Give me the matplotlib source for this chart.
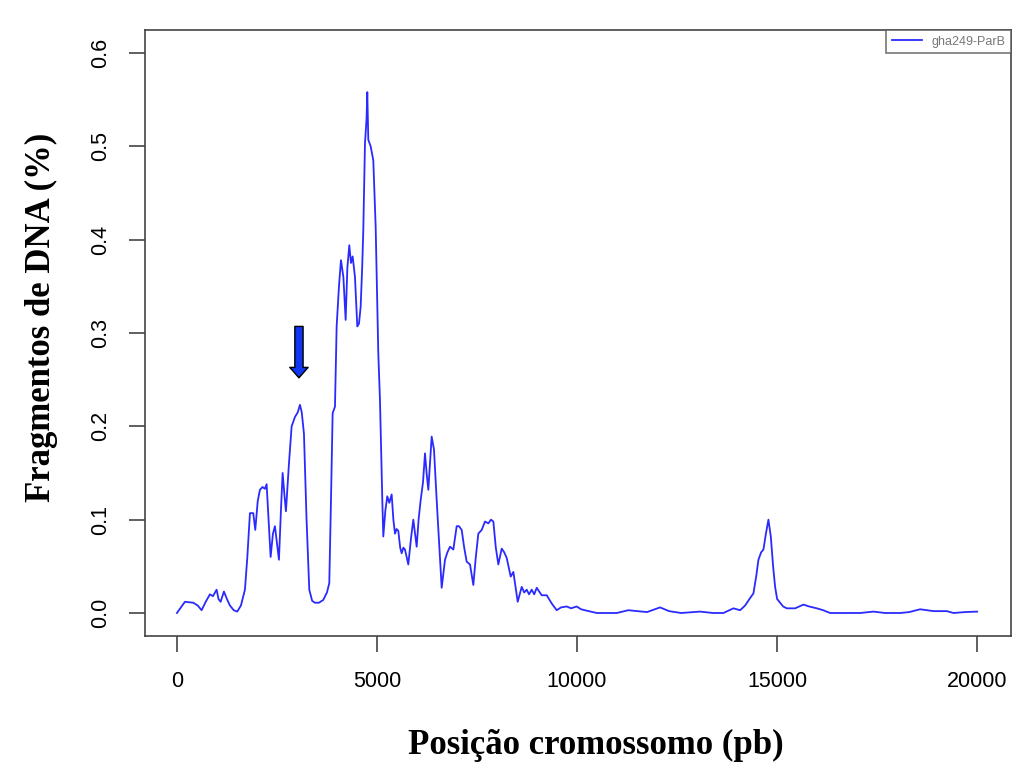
import numpy as np
import matplotlib.pyplot as plt

# posição (pb) e fragmentos de DNA (%)
posicao = [0, 100, 200, 410, 520, 617, 720, 825, 900, 992, 1040, 1092, 1175, 1250, 1325,
           1420, 1508, 1600, 1700, 1760, 1825, 1908, 1958, 2020, 2075, 2140, 2200, 2242,
           2290, 2342, 2400, 2450, 2500, 2550, 2600, 2642, 2690, 2725, 2800, 2867, 2950,
           3020, 3075, 3120, 3175, 3240, 3308, 3380, 3450, 3550, 3658, 3750, 3808, 3850,
           3892, 3950, 3992, 4050, 4100, 4160, 4217, 4260, 4308, 4350, 4392, 4450, 4508,
           4550, 4592, 4630, 4658, 4700, 4740, 4758, 4783, 4842, 4908, 4967, 5033, 5075,
           5133, 5158, 5210, 5258, 5308, 5367, 5410, 5450, 5490, 5533, 5580, 5617, 5660,
           5700, 5783, 5850, 5908, 5992, 6040, 6092, 6150, 6200, 6240, 6283, 6367, 6425,
           6492, 6560, 6617, 6700, 6760, 6825, 6908, 6992, 7050, 7117, 7180, 7242, 7325,
           7408, 7470, 7533, 7617, 7700, 7783, 7850, 7908, 7970, 8033, 8117, 8180, 8242,
           8342, 8408, 8517, 8617, 8680, 8742, 8800, 8867, 8930, 8992, 9117, 9242, 9370,
           9492, 9600, 9742, 9850, 9990, 10100, 10242, 10492, 10750, 10992, 11283, 11500,
           11750, 12075, 12300, 12600, 13075, 13400, 13658, 13908, 14075, 14200, 14325,
           14408, 14480, 14533, 14600, 14658, 14720, 14783, 14842, 14900, 14950, 15000,
           15075, 15150, 15242, 15450, 15658, 15800, 15992, 16150, 16325, 16700, 17075,
           17408, 17700, 18075, 18300, 18575, 18908, 19242, 19408, 19700, 20000]

fragmentos = [0.0, 0.006, 0.012, 0.011, 0.008, 0.003, 0.012, 0.020, 0.018, 0.025, 0.015,
              0.012, 0.023, 0.015, 0.008, 0.003, 0.0015, 0.008, 0.025, 0.06, 0.107, 0.107,
              0.089, 0.12, 0.132, 0.135, 0.133, 0.138, 0.10, 0.06, 0.085, 0.093, 0.075,
              0.057, 0.11, 0.15, 0.125, 0.109, 0.16, 0.20, 0.21, 0.215, 0.223, 0.215, 0.192,
              0.10, 0.025, 0.013, 0.011, 0.011, 0.014, 0.022, 0.032, 0.12, 0.214, 0.221,
              0.307, 0.35, 0.378, 0.36, 0.314, 0.37, 0.394, 0.375, 0.382, 0.36, 0.307, 0.31,
              0.328, 0.37, 0.41, 0.503, 0.53, 0.558, 0.507, 0.50, 0.485, 0.414, 0.278, 0.228,
              0.121, 0.082, 0.11, 0.125, 0.118, 0.127, 0.10, 0.085, 0.09, 0.088, 0.07, 0.064,
              0.07, 0.068, 0.052, 0.08, 0.10, 0.071, 0.10, 0.121, 0.14, 0.171, 0.15, 0.132,
              0.189, 0.175, 0.121, 0.07, 0.027, 0.057, 0.065, 0.071, 0.068, 0.093, 0.093,
              0.089, 0.07, 0.055, 0.052, 0.030, 0.06, 0.085, 0.089, 0.098, 0.096, 0.10,
              0.098, 0.07, 0.052, 0.069, 0.065, 0.059, 0.039, 0.044, 0.012, 0.028, 0.022,
              0.025, 0.020, 0.025, 0.02, 0.027, 0.019, 0.019, 0.01, 0.003, 0.006, 0.007,
              0.005, 0.007, 0.004, 0.0025, 0.0, 0.0, 0.0, 0.003, 0.002, 0.001, 0.006, 0.002,
              0.0, 0.0015, 0.0, 0.0, 0.005, 0.003, 0.008, 0.016, 0.021, 0.04, 0.057, 0.065,
              0.068, 0.085, 0.10, 0.082, 0.05, 0.028, 0.015, 0.011, 0.007, 0.005, 0.005,
              0.009, 0.007, 0.005, 0.003, 0.0, 0.0, 0.0, 0.0015, 0.0, 0.0, 0.001, 0.004,
              0.002, 0.002, 0.0, 0.001, 0.0015]

xticks = [0, 5000, 10000, 15000, 20000]
yticks = [0.0, 0.1, 0.2, 0.3, 0.4, 0.5, 0.6]

# seta indicando o pico em ~3000 pb
seta_x = 3050
seta_topo = 0.31
seta_ponta = 0.249

fig = plt.figure(figsize=(10.35, 7.69), dpi=100)
ax = fig.add_axes([0.140, 0.173, 0.837, 0.788])

ax.plot(posicao, fragmentos, color='#2a2aff', lw=1.3, label='gha249-ParB')

ax.set_xlim(-800, 20850)
ax.set_ylim(-0.0246, 0.6246)
ax.set_xticks(xticks)
ax.set_xticklabels([str(t) for t in xticks], fontsize=15.5, family='Liberation Sans')
ax.set_yticks(yticks)
ax.set_yticklabels([f'{t:.1f}' for t in yticks], fontsize=15.5, family='Liberation Sans',
                   rotation=90, va='center')
ax.tick_params(axis='both', direction='out', length=11.5, width=1.2, color='#444444')
ax.tick_params(axis='x', pad=14)
ax.tick_params(axis='y', pad=13)

for s in ax.spines.values():
    s.set_color('#444444')
    s.set_linewidth(1.2)

ax.set_xlabel('Posição cromossomo (pb)', fontsize=25, family='Liberation Serif',
              fontweight='bold', va='center')
ax.xaxis.set_label_coords(0.52, -0.18)
ax.set_ylabel('Fragmentos de DNA (%)', fontsize=25, family='Liberation Serif',
              fontweight='bold', va='center')
ax.yaxis.set_label_coords(-0.119, 0.526)

ax.annotate('', xy=(seta_x, seta_ponta), xytext=(seta_x, seta_topo),
            arrowprops=dict(arrowstyle='simple,head_width=0.6,head_length=0.34,tail_width=0.27',
                            fc='#1038f0', ec='black', lw=1.0, mutation_scale=22))

leg = ax.legend(loc='upper right', frameon=True, fancybox=False,
                edgecolor='#555555', borderaxespad=0, handlelength=2.4, borderpad=0.45,
                prop={'family': 'Liberation Sans', 'size': 9})
leg.get_frame().set_linewidth(1.2)
for t in leg.get_texts():
    t.set_color('#777777')

fig.savefig('out.png', dpi=100)
